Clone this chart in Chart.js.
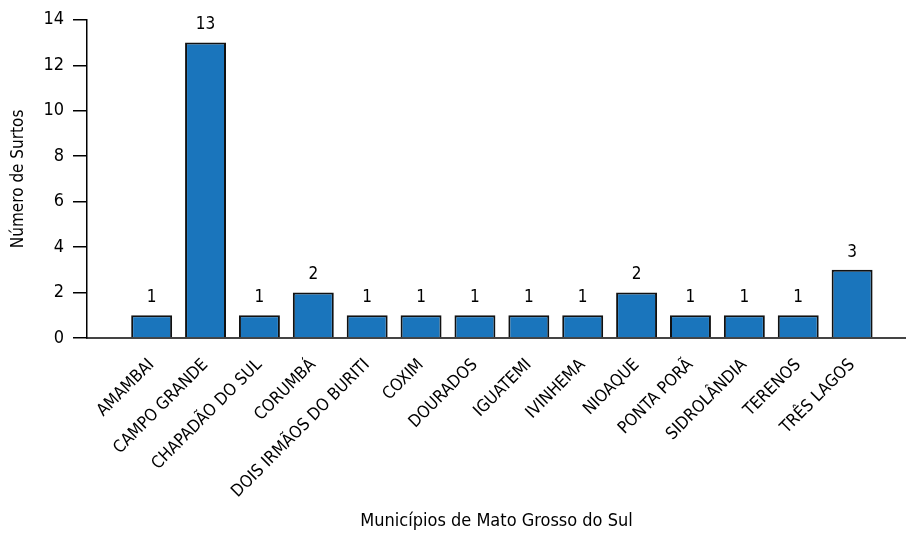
<!DOCTYPE html>
<html>
<head>
<meta charset="utf-8">
<script src="https://cdn.jsdelivr.net/npm/chart.js@4"></script>
<style>
  body { margin: 0; background: #fff; }
  #wrap { width: 906px; height: 537px; }
</style>
</head>
<body>
<div id="wrap"><canvas id="surtos"></canvas></div>
<script>
// municípios and number of outbreaks
const municipios = ['AMAMBAI', 'CAMPO GRANDE', 'CHAPADÃO DO SUL', 'CORUMBÁ', 'DOIS IRMÃOS DO BURITI',
    'COXIM', 'DOURADOS', 'IGUATEMI', 'IVINHEMA', 'NIOAQUE', 'PONTA PORÃ', 'SIDROLÂNDIA', 'TERENOS', 'TRÊS LAGOS'];
const surtos = [1, 13, 1, 2, 1, 1, 1, 1, 1, 2, 1, 1, 1, 3];
const yTicks = [0, 2, 4, 6, 8, 10, 12, 14];

const fontFamily = '"DejaVu Sans Condensed", "DejaVu Sans"';

// value written above each bar
const valueLabels = {
    id: 'valueLabels',
    afterDatasetsDraw(chart) {
        const ctx = chart.ctx;
        const meta = chart.getDatasetMeta(0);
        ctx.save();
        ctx.fillStyle = '#000';
        ctx.font = '17px ' + fontFamily;
        ctx.textAlign = 'center';
        ctx.textBaseline = 'bottom';
        meta.data.forEach((bar, i) => {
            ctx.fillText(String(surtos[i]), bar.x, bar.y - 9);
        });
        ctx.restore();
    }
};

new Chart(document.getElementById('surtos'), {
    type: 'bar',
    data: {
        datasets: [{
            data: surtos.map((v, i) => ({ x: i + 1, y: v })),
            backgroundColor: '#1a75bc',
            borderColor: '#111',
            borderWidth: 2,
            barPercentage: 0.76,
            categoryPercentage: 1
        }]
    },
    plugins: [valueLabels],
    options: {
        responsive: true,
        maintainAspectRatio: false,
        animation: false,
        layout: { padding: { top: 11, right: 0 } },
        plugins: {
            legend: { display: false },
            tooltip: { enabled: false }
        },
        scales: {
            x: {
                type: 'linear',
                offset: false,
                min: -0.2,
                max: 15,
                afterBuildTicks: (scale) => {
                    scale.ticks = municipios.map((_, i) => ({ value: i + 1 }));
                },
                afterFit: (scale) => { scale.height = 199; },
                grid: { display: false },
                border: { display: true, color: '#444', width: 2 },
                ticks: {
                    autoSkip: false,
                    minRotation: 45,
                    maxRotation: 45,
                    padding: 9,
                    color: '#000',
                    font: { family: fontFamily, size: 17 },
                    callback: (v) => municipios[v - 1]
                },
                title: {
                    display: true,
                    text: 'Municípios de Mato Grosso do Sul',
                    color: '#000',
                    font: { family: fontFamily, size: 18 },
                    padding: { top: 4, bottom: 5 }
                }
            },
            y: {
                min: 0,
                max: 14,
                afterBuildTicks: (scale) => {
                    scale.ticks = yTicks.map(v => ({ value: v }));
                },
                afterFit: (scale) => { scale.width = 87; },
                grid: {
                    drawOnChartArea: false,
                    tickLength: 14,
                    color: '#000',
                    lineWidth: 1.5
                },
                border: { display: true, color: '#000', width: 1.5 },
                ticks: {
                    padding: 9,
                    color: '#000',
                    font: { family: fontFamily, size: 18 }
                },
                title: {
                    display: true,
                    text: 'Número de Surtos',
                    color: '#000',
                    font: { family: fontFamily, size: 17 },
                    padding: { top: 8, bottom: 4 }
                }
            }
        }
    }
});
</script>
</body>
</html>
